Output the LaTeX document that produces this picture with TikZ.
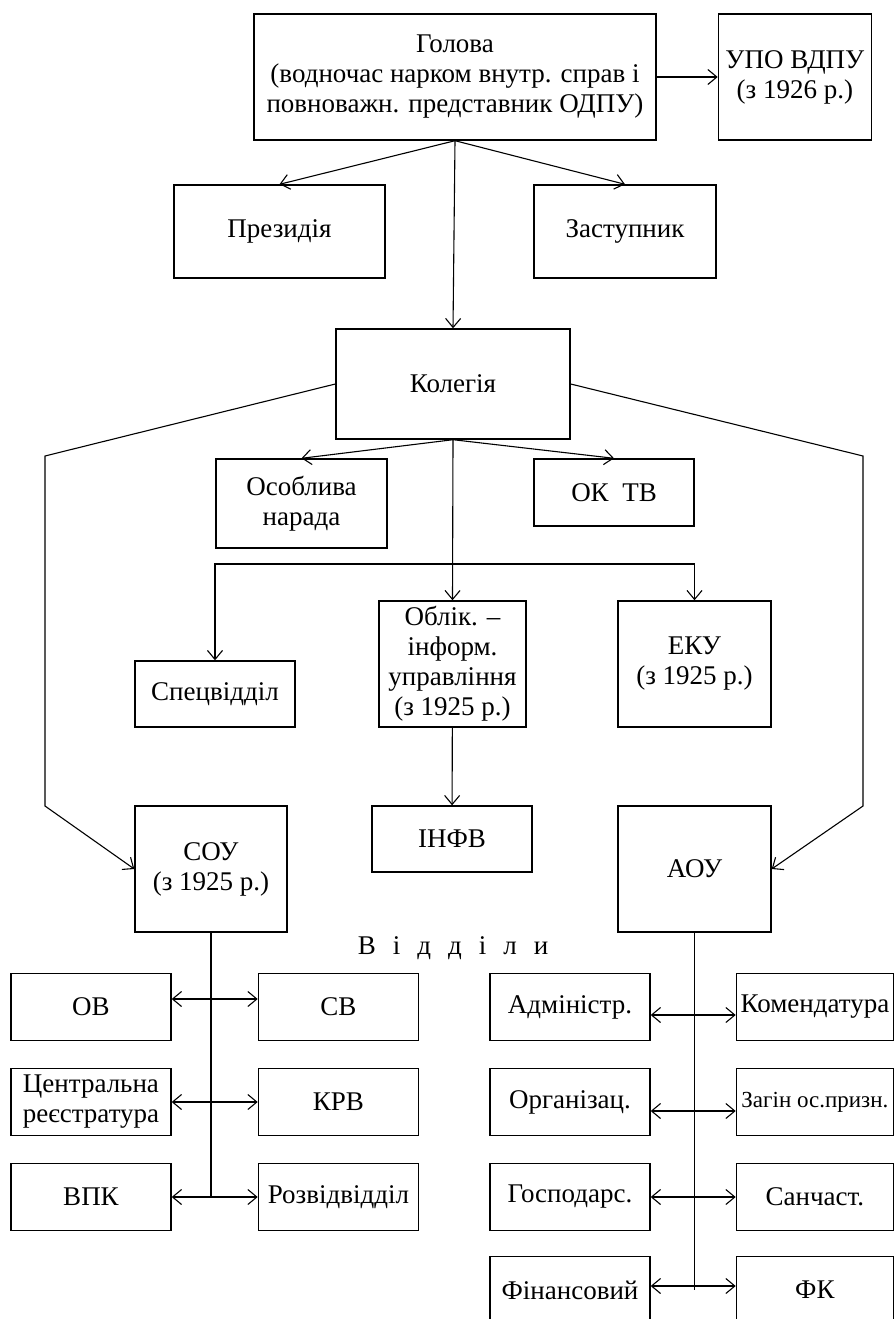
\documentclass[tikz,border=0pt]{standalone}
\usepackage{fontspec}
\setmainfont{Liberation Serif}
\usepackage{tikz}
\usetikzlibrary{arrows.meta, positioning}
\tikzset{
  box/.style={
    rectangle, draw=black, line width=1.4pt,
    align=center, inner sep=2pt,
    font=\fontsize{27}{30}\selectfont,
  },
  unit/.style={box, minimum width=160pt, minimum height=67pt},
  arrow/.style={-{Straight Barb[length=9pt, width=15pt]}, line width=1.1pt},
  twoway/.style={{Straight Barb[length=9pt, width=15pt]}-{Straight Barb[length=9pt, width=15pt]}, line width=1.1pt},
  link/.style={line width=1.1pt},
}

\begin{document}
\begin{tikzpicture}[x=1pt, y=-1pt]

  \useasboundingbox (0,0) rectangle (894,1319);
  \clip (0,0) rectangle (894,1319);

  % top level
  \node[box, minimum width=402pt, minimum height=126pt] (head) at (455,77) {Голова\\(водночас нарком внутр. справ і\\повноважн. представник ОДПУ)};
  \node[box, minimum width=153pt, minimum height=126pt, right=61pt of head] (upo) {УПО ВДПУ\\(з 1926 р.)};
  \node[box, minimum width=211pt, minimum height=93pt] (presid) at (279.5,231.5) {Президія};
  \node[box, minimum width=182pt, minimum height=93pt] (deputy) at (625,231.5) {Заступник};
  \node[box, minimum width=234pt, minimum height=110pt] (board) at (453,384) {Колегія};

  % under the board
  \node[box, minimum width=171pt, minimum height=89pt] (meeting) at (301.5,503.5) {Особлива\\нарада};
  \node[box, minimum width=160pt, minimum height=67pt] (oktv) at (614,492.5) {ОК~~ТВ};
  \node[box, minimum width=147pt, minimum height=126pt] (oblik) at (452.5,664) {Облік. --\\інформ.\\управління\\(з 1925 р.)};
  \node[box, minimum width=160pt, minimum height=66pt] (spec) at (215,694) {Спецвідділ};
  \node[box, minimum width=153pt, minimum height=126pt] (eku) at (694.5,664) {ЕКУ\\(з 1925 р.)};
  \node[box, minimum width=160pt, minimum height=66pt] (infv) at (452,839) {ІНФВ};
  \node[box, minimum width=152pt, minimum height=126pt] (sou) at (211,869) {СОУ\\(з 1925 р.)};
  \node[box, minimum width=153pt, minimum height=126pt] (aou) at (694.5,869) {АОУ};
  \node[font=\fontsize{27}{30}\selectfont] (depts) at (453,948) {В\hspace{17pt}і\hspace{17pt}д\hspace{17pt}д\hspace{17pt}і\hspace{17pt}л\hspace{17pt}и};

  % departments of SOU
  \node[unit] (ov) at (91,1007) {ОВ};
  \node[unit, right=86pt of ov] (sv) {СВ};
  \node[unit] (central) at (91,1102) {Центральна\\реєстратура};
  \node[unit, right=86pt of central] (krv) {КРВ};
  \node[unit] (vpk) at (91,1197) {ВПК};
  \node[unit, right=86pt of vpk] (rozv) {Розвідвідділ};

  % departments of AOU
  \node[unit] (admin) at (570,1007) {Адміністр.};
  \node[unit, minimum width=157pt, right=85pt of admin] (komend) {Комендатура};
  \node[unit] (org) at (570,1102) {Організац.};
  \node[unit, minimum width=157pt, right=85pt of org, font=\fontsize{23}{30}\selectfont] (zahin) {Загін ос.призн.};
  \node[unit] (hosp) at (570,1197) {Господарс.};
  \node[unit, minimum width=157pt, right=85pt of hosp] (sanch) {Санчаст.};
  \node[unit] (fin) at (570,1290) {Фінансовий};
  \node[unit, minimum width=157pt, right=85pt of fin] (fk) {ФК};

  \coordinate (lup) at (45,456);
  \coordinate (ldown) at (45,806);
  \coordinate (rup) at (863,456);
  \coordinate (rdown) at (863,806);
  \coordinate (fork) at (453,564);

  \draw[arrow] (head) -- (upo);
  \draw[arrow] (head.south) -- (presid.north);
  \draw[arrow] (head.south) -- (deputy.north);
  \draw[arrow] (head.south) -- (board.north);
  \draw[arrow] (board.west) -- (lup) -- (ldown) -- (sou.west);
  \draw[arrow] (board.east) -- (rup) -- (rdown) -- (aou.east);
  \draw[arrow] (board.south) -- (meeting.north);
  \draw[arrow] (board.south) -- (oktv.north);
  \draw[arrow] (board.south) -- (oblik.north);
  \draw[arrow] (fork) -| (spec.north);
  \draw[arrow] (fork) -| (eku.north);
  \draw[arrow] (oblik) -- (infv);

  \draw[link] (sou.south) -- (sou.south |- rozv.west);
  \draw[twoway] ([yshift=8pt]ov.east) -- ([yshift=8pt]sv.west);
  \draw[twoway] (central) -- (krv);
  \draw[twoway] (vpk) -- (rozv);

  \draw[link] (aou.south) -- (aou.south |- fin.east);
  \draw[twoway] ([yshift=-8pt]admin.east) -- ([yshift=-8pt]komend.west);
  \draw[twoway] ([yshift=-9pt]org.east) -- ([yshift=-9pt]zahin.west);
  \draw[twoway] (hosp) -- (sanch);
  \draw[twoway] ([yshift=4pt]fin.east) -- ([yshift=4pt]fk.west);

\end{tikzpicture}
\end{document}
